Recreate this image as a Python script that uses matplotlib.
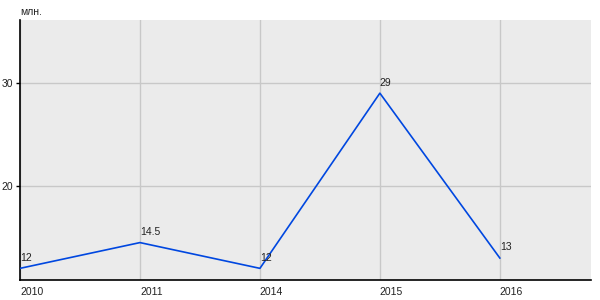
import matplotlib
matplotlib.use("Agg")
import matplotlib.pyplot as plt

# Данные графика
years = ["2010", "2011", "2014", "2015", "2016"]
values = [12, 14.5, 12, 29, 13]
value_labels = ["12", "14.5", "12", "29", "13"]
y_ticks = [20, 30]

plt.rcParams["font.family"] = ["Liberation Sans", "DejaVu Sans"]

fig = plt.figure(figsize=(6, 3), dpi=100, facecolor="white")
ax = fig.add_axes([20 / 600, 20 / 300, 571 / 600, 260 / 300])
ax.set_facecolor("#ebebeb")

x = list(range(len(years)))
ax.plot(x, values, color="#0047e0", lw=1.2, zorder=3)

for xi, v, lab in zip(x, values, value_labels):
    ax.annotate(lab, (xi, v), xytext=(0, 4), textcoords="offset points",
                ha="left", va="bottom", fontsize=7.5, color="#222222")

ax.set_xlim(0, 4.76)
ax.set_ylim(10.87, 36.1)
ax.set_xticks(x)
ax.set_xticklabels(years, ha="left", fontsize=7.5, color="#222222")
ax.set_yticks(y_ticks)
ax.set_yticklabels([str(t) for t in y_ticks], fontsize=7.5, color="#222222")
ax.tick_params(axis="x", length=0, pad=5)
ax.tick_params(axis="y", length=3, width=1, color="black", pad=2)

ax.grid(True, color="#c8c8c8", lw=1)
ax.set_axisbelow(True)
for s in ("top", "right"):
    ax.spines[s].set_visible(False)
for s in ("left", "bottom"):
    ax.spines[s].set_color("black")
    ax.spines[s].set_linewidth(1.2)

fig.text(20 / 600, 1 - 12 / 300, "млн.", ha="left", va="center",
         fontsize=7.5, color="#222222")

fig.savefig("out.png", dpi=100)
